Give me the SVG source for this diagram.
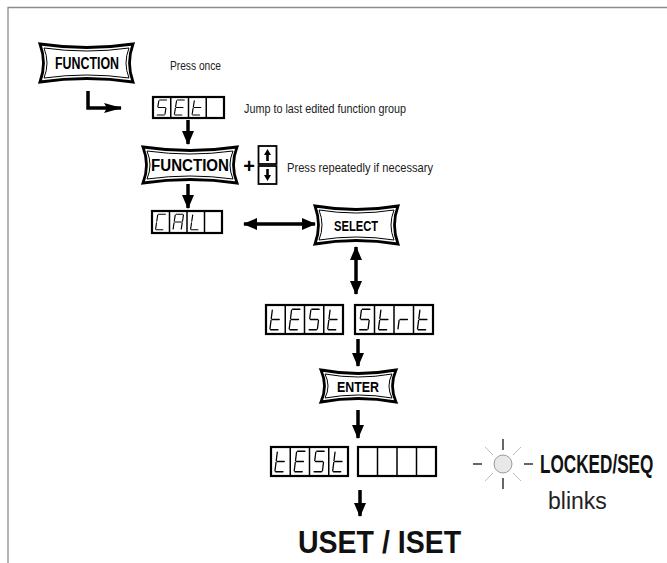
<svg xmlns="http://www.w3.org/2000/svg" xmlns:xlink="http://www.w3.org/1999/xlink" width="667" height="563" viewBox="0 0 667 563">
<style>
.frame{fill:none;stroke:#8c8c8c;stroke-width:1.3}
.btn-o{fill:#fff;stroke:#000;stroke-width:2.8;stroke-linejoin:miter}
.btn-i{fill:none;stroke:#000;stroke-width:1}
.btxt{font-family:"Liberation Sans Narrow","Liberation Sans",Arial,sans-serif;font-weight:bold;fill:#000;text-anchor:middle}
.lbl{font-family:"Liberation Sans Narrow","Liberation Sans",Arial,sans-serif;font-size:13px;fill:#222}
.big{font-family:"Liberation Sans Narrow","Liberation Sans",Arial,sans-serif;font-weight:bold;fill:#111}
.disp{fill:#fff;stroke:#000;stroke-width:2.2}
.div{stroke:#000;stroke-width:1.5}
.seg{fill:none;stroke:#000;stroke-width:1.2;stroke-linecap:round}
.conn{fill:none;stroke:#000;stroke-width:3.5}
</style>
<defs>
<marker id="ah" markerUnits="userSpaceOnUse" markerWidth="14" markerHeight="12" viewBox="0 0 14 12" refX="13" refY="6" orient="auto-start-reverse">
<path d="M0,0 L14,6 L0,12 Z" fill="#000"/>
</marker>
<marker id="ahL" markerUnits="userSpaceOnUse" markerWidth="18" markerHeight="10" viewBox="0 0 18 10" refX="17" refY="5" orient="auto">
<path d="M0,0 L18,5 L0,10 L3,5 Z" fill="#000"/>
</marker>
<symbol id="S" viewBox="0 0 18 24" preserveAspectRatio="none">
<g class="seg"><line x1="6.8" y1="3.5" x2="13.7" y2="3.5"/><line x1="5.9" y1="4.3" x2="4.9" y2="11.2"/><line x1="5.6" y1="12" x2="12.4" y2="12"/><line x1="13.1" y1="12.8" x2="12.1" y2="19.7"/><line x1="4.3" y1="20.5" x2="11.2" y2="20.5"/></g></symbol>
<symbol id="E" viewBox="0 0 18 24" preserveAspectRatio="none">
<g class="seg"><line x1="6.8" y1="3.5" x2="13.7" y2="3.5"/><line x1="5.9" y1="4.3" x2="4.9" y2="11.2"/><line x1="5.6" y1="12" x2="12.4" y2="12"/><line x1="4.7" y1="12.8" x2="3.7" y2="19.7"/><line x1="4.3" y1="20.5" x2="11.2" y2="20.5"/></g></symbol>
<symbol id="t" viewBox="0 0 18 24" preserveAspectRatio="none">
<g class="seg"><line x1="5.9" y1="4.3" x2="4.9" y2="11.2"/><line x1="5.6" y1="12" x2="12.4" y2="12"/><line x1="4.7" y1="12.8" x2="3.7" y2="19.7"/><line x1="4.3" y1="20.5" x2="11.2" y2="20.5"/></g></symbol>
<symbol id="C" viewBox="0 0 18 24" preserveAspectRatio="none">
<g class="seg"><line x1="6.8" y1="3.5" x2="13.7" y2="3.5"/><line x1="5.9" y1="4.3" x2="4.9" y2="11.2"/><line x1="4.7" y1="12.8" x2="3.7" y2="19.7"/><line x1="4.3" y1="20.5" x2="11.2" y2="20.5"/></g></symbol>
<symbol id="A" viewBox="0 0 18 24" preserveAspectRatio="none">
<g class="seg"><line x1="6.8" y1="3.5" x2="13.7" y2="3.5"/><line x1="14.4" y1="4.3" x2="13.4" y2="11.2"/><line x1="5.9" y1="4.3" x2="4.9" y2="11.2"/><line x1="5.6" y1="12" x2="12.4" y2="12"/><line x1="4.7" y1="12.8" x2="3.7" y2="19.7"/><line x1="13.1" y1="12.8" x2="12.1" y2="19.7"/></g></symbol>
<symbol id="L" viewBox="0 0 18 24" preserveAspectRatio="none">
<g class="seg"><line x1="5.9" y1="4.3" x2="4.9" y2="11.2"/><line x1="4.7" y1="12.8" x2="3.7" y2="19.7"/><line x1="4.3" y1="20.5" x2="11.2" y2="20.5"/></g></symbol>
<symbol id="r" viewBox="0 0 18 24" preserveAspectRatio="none">
<g class="seg"><line x1="5.6" y1="12" x2="12.4" y2="12"/><line x1="4.7" y1="12.8" x2="3.7" y2="19.7"/></g></symbol>
</defs>

<g id="frame">
<path class="frame" d="M8,563 V7.5 H667"/>
</g>

<g id="connectors">
<path class="conn" d="M88,91 V108 H121" stroke-width="5" marker-end="url(#ahL)"/>
<line class="conn" x1="188" y1="120" x2="188" y2="144" marker-end="url(#ah)"/>
<line class="conn" x1="188" y1="184" x2="188" y2="208" marker-end="url(#ah)"/>
<line class="conn" x1="244" y1="224" x2="315" y2="224" marker-start="url(#ah)" marker-end="url(#ah)"/>
<line class="conn" x1="356" y1="247" x2="356" y2="294" marker-start="url(#ah)" marker-end="url(#ah)"/>
<line class="conn" x1="358" y1="339" x2="358" y2="366" marker-end="url(#ah)"/>
<line class="conn" x1="358" y1="410" x2="358" y2="438" marker-end="url(#ah)"/>
<line class="conn" x1="360" y1="490" x2="360" y2="516" marker-end="url(#ah)"/>
</g>

<g id="btn-function-1">
<path class="btn-o" d="M40,44 Q87,51 133,44 Q126,63 133,82 Q87,75 40,82 Q47,63 40,44 Z"/>
<path class="btn-i" d="M44,48 Q87,54 129,48 Q123,63 129,78 Q87,72 44,78 Q50,63 44,48 Z"/>
<text class="btxt" x="87" y="69" font-size="16" textLength="64" lengthAdjust="spacingAndGlyphs">FUNCTION</text>
</g>
<g id="label-press-once"><text class="lbl" x="170" y="70" textLength="51" lengthAdjust="spacingAndGlyphs">Press once</text></g>

<g id="disp-set">
<rect class="disp" x="153" y="97" width="71" height="21"/>
<line class="div" x1="170.75" y1="97" x2="170.75" y2="118"/><line class="div" x1="188.5" y1="97" x2="188.5" y2="118"/><line class="div" x1="206.25" y1="97" x2="206.25" y2="118"/>
<use href="#S" x="153" y="97" width="17.75" height="21"/>
<use href="#E" x="170.75" y="97" width="17.75" height="21"/>
<use href="#t" x="188.5" y="97" width="17.75" height="21"/>
</g>
<g id="label-jump"><text class="lbl" x="244" y="113" textLength="162" lengthAdjust="spacingAndGlyphs">Jump to last edited function group</text></g>

<g id="btn-function-2">
<path class="btn-o" d="M143,147 Q190,154 237,147 Q230,165 237,183 Q190,176 143,183 Q150,165 143,147 Z"/>
<path class="btn-i" d="M147,151 Q190,157 233,151 Q227,165 233,179 Q190,173 147,179 Q153,165 147,151 Z"/>
<text class="btxt" x="190" y="171" font-size="16" textLength="78" lengthAdjust="spacingAndGlyphs">FUNCTION</text>
</g>
<g id="plus"><text class="btxt" x="249" y="173" font-size="20">+</text></g>
<g id="keys-updown">
<rect x="258.5" y="146" width="18" height="18" fill="#fff" stroke="#000" stroke-width="1.8"/>
<rect x="258.5" y="166" width="18" height="18" fill="#fff" stroke="#000" stroke-width="1.8"/>
<path d="M267.5,149 L271,155 L268.8,155 L268.8,161 L266.2,161 L266.2,155 L264,155 Z" fill="#000"/>
<path d="M267.5,181 L271,175 L268.8,175 L268.8,169 L266.2,169 L266.2,175 L264,175 Z" fill="#000"/>
</g>
<g id="label-press-repeat"><text class="lbl" x="287" y="172" textLength="146" lengthAdjust="spacingAndGlyphs">Press repeatedly if necessary</text></g>

<g id="disp-cal">
<rect class="disp" x="152" y="211" width="70" height="22"/>
<line class="div" x1="169.5" y1="211" x2="169.5" y2="233"/><line class="div" x1="187" y1="211" x2="187" y2="233"/><line class="div" x1="204.5" y1="211" x2="204.5" y2="233"/>
<use href="#C" x="152" y="211" width="17.5" height="22"/>
<use href="#A" x="169.5" y="211" width="17.5" height="22"/>
<use href="#L" x="187" y="211" width="17.5" height="22"/>
</g>

<g id="btn-select">
<path class="btn-o" d="M315,206 Q356,213 398,206 Q391,225 398,244 Q356,237 315,244 Q322,225 315,206 Z"/>
<path class="btn-i" d="M319,210 Q356,216 394,210 Q388,225 394,240 Q356,234 319,240 Q325,225 319,210 Z"/>
<text class="btxt" x="356" y="231" font-size="14" textLength="44" lengthAdjust="spacingAndGlyphs">SELECT</text>
</g>

<g id="disp-test-strt">
<rect class="disp" x="266" y="305" width="77" height="29"/>
<line class="div" x1="285.25" y1="305" x2="285.25" y2="334"/><line class="div" x1="304.5" y1="305" x2="304.5" y2="334"/><line class="div" x1="323.75" y1="305" x2="323.75" y2="334"/>
<use href="#t" x="266" y="305" width="19.25" height="29"/>
<use href="#E" x="285.25" y="305" width="19.25" height="29"/>
<use href="#S" x="304.5" y="305" width="19.25" height="29"/>
<use href="#t" x="323.75" y="305" width="19.25" height="29"/>
<rect class="disp" x="355" y="305" width="78" height="29"/>
<line class="div" x1="374.5" y1="305" x2="374.5" y2="334"/><line class="div" x1="394" y1="305" x2="394" y2="334"/><line class="div" x1="413.5" y1="305" x2="413.5" y2="334"/>
<use href="#S" x="355" y="305" width="19.5" height="29"/>
<use href="#t" x="374.5" y="305" width="19.5" height="29"/>
<use href="#r" x="394" y="305" width="19.5" height="29"/>
<use href="#t" x="413.5" y="305" width="19.5" height="29"/>
</g>

<g id="btn-enter">
<path class="btn-o" d="M321,370 Q358,377 396,370 Q389,386 396,402 Q358,395 321,402 Q328,386 321,370 Z"/>
<path class="btn-i" d="M325,374 Q358,380 392,374 Q386,386 392,398 Q358,392 325,398 Q331,386 325,374 Z"/>
<text class="btxt" x="358" y="392" font-size="14" textLength="42" lengthAdjust="spacingAndGlyphs">ENTER</text>
</g>

<g id="disp-test-blank">
<rect class="disp" x="271" y="447" width="77" height="29"/>
<line class="div" x1="290.25" y1="447" x2="290.25" y2="476"/><line class="div" x1="309.5" y1="447" x2="309.5" y2="476"/><line class="div" x1="328.75" y1="447" x2="328.75" y2="476"/>
<use href="#t" x="271" y="447" width="19.25" height="29"/>
<use href="#E" x="290.25" y="447" width="19.25" height="29"/>
<use href="#S" x="309.5" y="447" width="19.25" height="29"/>
<use href="#t" x="328.75" y="447" width="19.25" height="29"/>
<rect class="disp" x="358" y="447" width="78" height="29"/>
<line class="div" x1="377.5" y1="447" x2="377.5" y2="476"/><line class="div" x1="397" y1="447" x2="397" y2="476"/><line class="div" x1="416.5" y1="447" x2="416.5" y2="476"/>
</g>

<g id="led">
<g stroke="#bdbdbd" stroke-width="1">
<line x1="485" y1="447" x2="493" y2="455"/><line x1="521" y1="447" x2="513" y2="455"/>
<line x1="485" y1="481" x2="493" y2="473"/><line x1="521" y1="481" x2="513" y2="473"/>
</g>
<g stroke="#000" stroke-width="1.2">
<line x1="473" y1="464" x2="482" y2="464"/><line x1="524" y1="464" x2="533" y2="464"/>
<line x1="503" y1="439" x2="503" y2="450"/><line x1="503" y1="478" x2="503" y2="489"/>
</g>
<circle cx="503" cy="464" r="9" fill="#e8e8e8" stroke="#9a9a9a" stroke-width="1"/>
</g>
<g id="label-locked"><text class="big" transform="translate(540,473) scale(0.66,1)" x="0" y="0" font-size="26">LOCKED/SEQ</text></g>
<g id="label-blinks"><text x="548" y="509" font-family="'Liberation Sans',Arial,sans-serif" font-size="23" fill="#222">blinks</text></g>

<g id="label-uset-iset"><text class="big" transform="translate(298,553) scale(0.92,1)" x="0" y="0" font-size="31">USET / ISET</text></g>
</svg>
